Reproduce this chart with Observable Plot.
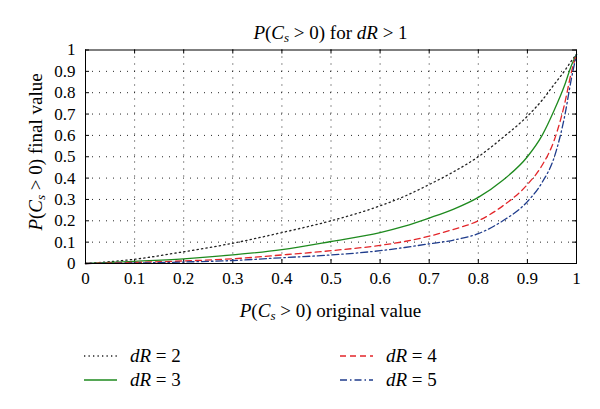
<!DOCTYPE html>
<html><head><meta charset="utf-8">
<script src="https://cdn.jsdelivr.net/npm/d3@7"></script>
<script src="https://cdn.jsdelivr.net/npm/@observablehq/plot@0.6"></script>
<style>
body{margin:0;background:#fff;}
#wrap{position:relative;width:600px;height:409px;font-family:"Liberation Serif","Times New Roman","DejaVu Serif",serif;color:#000;overflow:hidden;}
#chart{position:absolute;left:0;top:0;}
.t{position:absolute;font-size:19px;white-space:nowrap;line-height:1;}
.t sub{font-size:13px;vertical-align:-3px;line-height:0;}
.lg{position:absolute;display:flex;align-items:center;font-size:19px;white-space:nowrap;}
.lg svg{margin-right:13px;}
</style></head><body>
<div id="wrap">
  <div id="chart"></div>
  <div class="t" id="title"><i>P</i>(<i>C<sub>s</sub></i> &gt; 0) for <i>dR</i> &gt; 1</div>
  <div class="t" id="xlab"><i>P</i>(<i>C<sub>s</sub></i> &gt; 0) original value</div>
  <div class="t" id="ylab"><i>P</i>(<i>C<sub>s</sub></i> &gt; 0) final value</div>
  <div id="legend"></div>
</div>
<script>
// ---- data ----
const xTicks = [0, 0.1, 0.2, 0.3, 0.4, 0.5, 0.6, 0.7, 0.8, 0.9, 1];
const yTicks = [0, 0.1, 0.2, 0.3, 0.4, 0.5, 0.6, 0.7, 0.8, 0.9, 1];
const gridX = [0.1, 0.2, 0.3, 0.4, 0.5, 0.6, 0.7, 0.8, 0.9];
const gridY = [0.1, 0.2, 0.3, 0.4, 0.5, 0.6, 0.7, 0.8, 0.9];
const xOriginal = [0, 0.1, 0.2, 0.3, 0.4, 0.5, 0.6, 0.65, 0.7, 0.75, 0.8, 0.85, 0.9, 0.93, 0.955, 0.975, 0.99, 1];
const dR2 = [0, 0.02, 0.055, 0.095, 0.145, 0.2, 0.27, 0.315, 0.37, 0.43, 0.5, 0.59, 0.69, 0.765, 0.84, 0.9, 0.95, 0.98];
const dR3 = [0, 0.01, 0.022, 0.04, 0.065, 0.103, 0.145, 0.175, 0.213, 0.255, 0.31, 0.39, 0.5, 0.6, 0.72, 0.83, 0.93, 0.98];
const dR4 = [0, 0.005, 0.012, 0.022, 0.04, 0.06, 0.085, 0.103, 0.128, 0.16, 0.2, 0.27, 0.37, 0.46, 0.58, 0.74, 0.9, 0.98];
const dR5 = [0, 0.002, 0.007, 0.014, 0.027, 0.04, 0.06, 0.075, 0.092, 0.11, 0.14, 0.2, 0.29, 0.38, 0.5, 0.68, 0.87, 0.98];
const seriesLabels = ["2", "3", "4", "5"];

// ---- styles ----
const styles = [
  {stroke: "#222", dash: "1.3,3.2"},
  {stroke: "#1e8a1e", dash: null},
  {stroke: "#e3262a", dash: "6,4"},
  {stroke: "#1f3c8c", dash: "7,3,1.5,3"}
];
const seriesValues = [dR2, dR3, dR4, dR5];
const series = seriesValues.map((vals, i) => ({
  label: seriesLabels[i],
  ...styles[i],
  data: xOriginal.map((x, j) => ({x, y: vals[j]}))
}));

const W = 600, H = 300, mt = 49.5, mb = 37, ml = 85, mr = 24;
const ph = H - mt - mb, pw = W - ml - mr;
const font = '"Liberation Serif","Times New Roman","DejaVu Serif",serif';

const plot = Plot.plot({
  width: W, height: H,
  marginTop: mt, marginBottom: mb, marginLeft: ml, marginRight: mr,
  x: {domain: [0, 1]},
  y: {domain: [0, 1]},
  style: {fontFamily: font, fontSize: "17px", color: "#000", background: "transparent", overflow: "visible"},
  marks: [
    Plot.ruleX(gridX, {stroke: "#000", strokeWidth: 1, strokeDasharray: "1,6", strokeOpacity: 0.85}),
    Plot.ruleY(gridY, {stroke: "#000", strokeWidth: 1, strokeDasharray: "1,6", strokeOpacity: 0.85}),
    Plot.ruleX(xTicks, {stroke: "#000", insetTop: ph - 4}),
    Plot.ruleX(xTicks, {stroke: "#000", insetBottom: ph - 4}),
    Plot.ruleY(yTicks, {stroke: "#000", insetRight: pw - 4}),
    Plot.ruleY(yTicks, {stroke: "#000", insetLeft: pw - 4}),
    Plot.axisX({ticks: xTicks, tickSize: 0, tickPadding: 8, tickFormat: d => String(d), label: null, fontSize: 17}),
    Plot.axisY({ticks: yTicks, tickSize: 0, tickPadding: 10, tickFormat: d => String(d), label: null, fontSize: 17}),
    ...series.map(s => Plot.line(s.data, {
      x: "x", y: "y", stroke: s.stroke, strokeWidth: 1.3,
      strokeDasharray: s.dash || undefined, curve: "monotone-x"
    })),
    Plot.frame({stroke: "#000", strokeWidth: 1})
  ]
});
document.getElementById("chart").appendChild(plot);

// ---- titles ----
const cx = ml + pw / 2;
const title = document.getElementById("title");
title.style.left = cx + "px"; title.style.top = "32px"; title.style.transform = "translate(-50%,-50%)";
const xlab = document.getElementById("xlab");
xlab.style.left = cx + "px"; xlab.style.top = "310px"; xlab.style.transform = "translate(-50%,-50%)";
const ylab = document.getElementById("ylab");
ylab.style.left = "35px"; ylab.style.top = "152px"; ylab.style.transform = "translate(-50%,-50%) rotate(-90deg)";

// ---- legend ----
const legend = document.getElementById("legend");
const pos = [
  {left: 84, top: 356}, {left: 84, top: 380},
  {left: 340, top: 356}, {left: 340, top: 380}
];
series.forEach((s, i) => {
  const div = document.createElement("div");
  div.className = "lg";
  div.style.left = pos[i].left + "px";
  div.style.top = pos[i].top + "px";
  div.style.transform = "translateY(-50%)";
  const ns = "http://www.w3.org/2000/svg";
  const svg = document.createElementNS(ns, "svg");
  svg.setAttribute("width", 33); svg.setAttribute("height", 10);
  const ln = document.createElementNS(ns, "line");
  ln.setAttribute("x1", 0); ln.setAttribute("x2", 33);
  ln.setAttribute("y1", 5); ln.setAttribute("y2", 5);
  ln.setAttribute("stroke", s.stroke); ln.setAttribute("stroke-width", 1.3);
  if (s.dash) ln.setAttribute("stroke-dasharray", s.dash);
  svg.appendChild(ln);
  div.appendChild(svg);
  const sp = document.createElement("span");
  sp.innerHTML = "<i>dR</i> = " + s.label;
  div.appendChild(sp);
  legend.appendChild(div);
});
</script>
</body></html>
